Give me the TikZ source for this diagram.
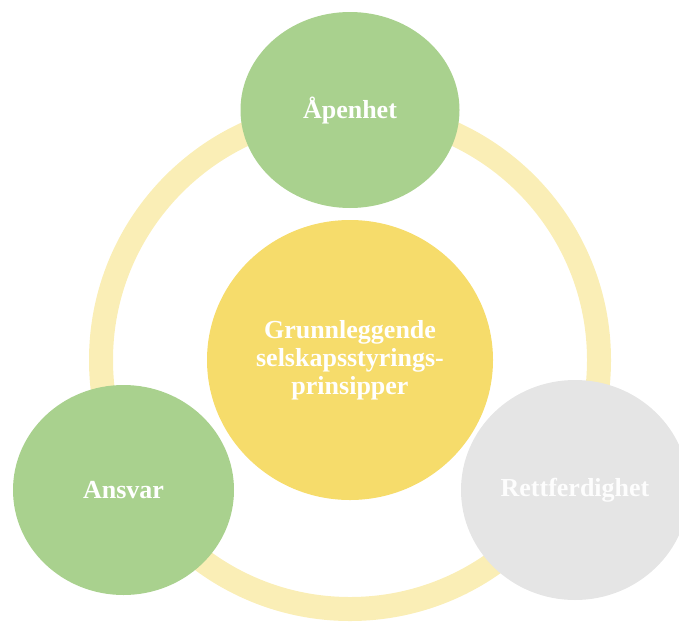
\documentclass[tikz,border=0pt]{standalone}
\usepackage{fontspec}
\setmainfont{Liberation Serif}
\usetikzlibrary{shapes.geometric}
\definecolor{leafgreen}{HTML}{A9D18E}
\definecolor{coregold}{HTML}{F6DC6B}
\definecolor{ringpale}{HTML}{FAEEB6}
\definecolor{softgray}{HTML}{E5E5E5}
\tikzset{
  bubble/.style={ellipse, inner sep=0pt, text=white,
    font=\fontsize{26}{28}\selectfont\bfseries, align=center},
  principle/.style={bubble, fill=leafgreen},
}
\begin{document}
\begin{tikzpicture}[x=1pt, y=-1pt]
  \useasboundingbox (0,0) rectangle (679,624);
  \clip (0,0) rectangle (679,624);
  % surrounding ring
  \draw[ringpale, line width=24pt] (350,360) circle[radius=249];
  % centre
  \node[bubble, fill=coregold, minimum width=286pt, minimum height=280pt]
    (core) at (350,360) {Grunnleggende\\selskapsstyrings-\\prinsipper};
  % principles on the ring
  \node[principle, minimum width=219pt, minimum height=196pt]
    (open) at (350,110) {Åpenhet};
  \node[principle, minimum width=221pt, minimum height=210pt]
    (resp) at (123.5,490) {Ansvar};
  \node[bubble, fill=softgray, text=white!92!softgray,
    minimum width=228pt, minimum height=220pt]
    (fair) at (575,490) {Rettferdighet};
\end{tikzpicture}
\end{document}
